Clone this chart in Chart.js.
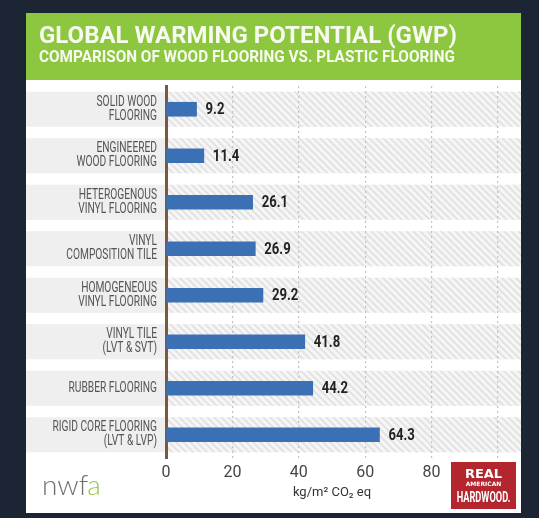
<!DOCTYPE html>
<html>
<head>
<meta charset="utf-8">
<title>Global Warming Potential (GWP)</title>
<script src="https://cdn.jsdelivr.net/npm/chart.js@4.4.0/dist/chart.umd.min.js"></script>
<style>
  html, body { margin: 0; padding: 0; background: #1b2533; }
  canvas { display: block; }
</style>
</head>
<body>
<canvas id="gwpChart" width="539" height="518"></canvas>
<script>
// chart data
const categories = [
  ["SOLID WOOD", "FLOORING"],
  ["ENGINEERED", "WOOD FLOORING"],
  ["HETEROGENOUS", "VINYL FLOORING"],
  ["VINYL", "COMPOSITION TILE"],
  ["HOMOGENEOUS", "VINYL FLOORING"],
  ["VINYL TILE", "(LVT & SVT)"],
  "RUBBER FLOORING",
  ["RIGID CORE FLOORING", "(LVT & LVP)"]
];
const gwpValues = [9.2, 11.4, 26.1, 26.9, 29.2, 41.8, 44.2, 64.3];
const xTickLabels = [0, 20, 40, 60, 80];

const titleText = "GLOBAL WARMING POTENTIAL (GWP)";
const subtitleText = "COMPARISON OF WOOD FLOORING VS. PLASTIC FLOORING";
const axisTitle = "kg/m² CO₂ eq";

const GREEN = "#8dc63f";
const BLUE = "#3b70b4";

// the white card + green header everything sits on
const card = { left: 26, right: 521, top: 13, bottom: 513, headerBottom: 80 };

// draws text squeezed horizontally, the original uses a condensed face
function condensedText(ctx, text, x, y, squeeze) {
  ctx.save();
  ctx.translate(x, y);
  ctx.scale(squeeze, 1);
  ctx.fillText(text, 0, 0);
  ctx.restore();
}

function makeHatch(ctx) {
  const size = 7;
  const c = document.createElement("canvas");
  c.width = size;
  c.height = size;
  const g = c.getContext("2d");
  g.fillStyle = "#f6f6f6";
  g.fillRect(0, 0, size, size);
  g.strokeStyle = "#e3e3e3";
  g.lineWidth = 2.2;
  g.beginPath();
  for (let k = -1; k <= 1; k++) {
    g.moveTo(k * size - 1, -1);
    g.lineTo(k * size + size + 1, size + 1);
  }
  g.stroke();
  return ctx.createPattern(c, "repeat");
}

const backgroundPlugin = {
  id: "infographicBackground",
  beforeDraw(chart) {
    const { ctx, chartArea } = chart;
    const yScale = chart.scales.y;
    ctx.save();
    ctx.fillStyle = "#1b2533";
    ctx.fillRect(0, 0, chart.width, chart.height);

    ctx.fillStyle = "#ffffff";
    ctx.fillRect(card.left, card.top, card.right - card.left, card.bottom - card.top);
    ctx.fillStyle = GREEN;
    ctx.fillRect(card.left, card.top, card.right - card.left, card.headerBottom - card.top);

    // header text
    ctx.fillStyle = "#f7fbef";
    ctx.textBaseline = "alphabetic";
    ctx.textAlign = "left";
    ctx.font = "bold 24px Roboto";
    ctx.fillText(titleText, 39, 43, 430);
    ctx.font = "bold 16px Roboto";
    ctx.fillText(subtitleText, 39, 62, 416);

    // one grey band per row, hatched inside the plot
    const hatch = makeHatch(ctx);
    const rowH = (chartArea.bottom - chartArea.top) / categories.length;
    const bandH = rowH * 0.755;
    categories.forEach((c, i) => {
      const y = yScale.getPixelForValue(i);
      ctx.fillStyle = "#efefef";
      ctx.fillRect(card.left, y - bandH / 2, chartArea.left - card.left, bandH);
      ctx.fillStyle = hatch;
      ctx.fillRect(chartArea.left, y - bandH / 2, card.right - chartArea.left, bandH);
    });

    // row labels, right aligned against the axis
    ctx.fillStyle = "#555555";
    ctx.font = "14px Roboto";
    ctx.textAlign = "right";
    ctx.textBaseline = "middle";
    const labelRight = chartArea.left - 9;
    categories.forEach((label, i) => {
      const lines = Array.isArray(label) ? label : [label];
      const y0 = yScale.getPixelForValue(i) - (lines.length - 1) * 7;
      lines.forEach((line, j) => condensedText(ctx, line, labelRight, y0 + j * 14, 0.73));
    });
    ctx.restore();
  },
  afterDatasetsDraw(chart) {
    const { ctx } = chart;
    const meta = chart.getDatasetMeta(0);
    ctx.save();
    ctx.fillStyle = "#222222";
    ctx.font = "bold 16px Roboto";
    ctx.textBaseline = "middle";
    ctx.textAlign = "left";
    meta.data.forEach((bar, i) => {
      condensedText(ctx, gwpValues[i].toFixed(1), bar.x + 9, bar.y + 1, 0.82);
    });
    ctx.restore();
  },
  afterDraw(chart) {
    const { ctx } = chart;
    ctx.save();
    // nwfa logo
    ctx.textBaseline = "alphabetic";
    ctx.textAlign = "left";
    ctx.font = "300 28px Lato";
    ctx.fillStyle = "#707070";
    ctx.fillText("nwf", 42, 495);
    const w = ctx.measureText("nwf").width;
    ctx.fillStyle = "#9cc54a";
    ctx.fillText("a", 42 + w - 1, 495);

    // Real American Hardwood logo
    ctx.fillStyle = "#b3262e";
    ctx.fillRect(451, 462, 65, 47);
    ctx.fillStyle = "#ffffff";
    ctx.textAlign = "center";
    ctx.font = "900 13px 'DejaVu Sans'";
    ctx.fillText("REAL", 483.5, 478, 50);
    ctx.font = "bold 6px 'DejaVu Sans'";
    ctx.fillText("AMERICAN", 483.5, 486, 50);
    ctx.font = "bold 14px Roboto";
    condensedText(ctx, "HARDWOOD.", 483.5, 502, 0.66);
    ctx.restore();
  }
};

const ctx = document.getElementById("gwpChart").getContext("2d");
const chart = new Chart(ctx, {
  type: "bar",
  data: {
    labels: categories,
    datasets: [
      {
        label: "GWP",
        data: gwpValues,
        backgroundColor: BLUE,
        barThickness: 14,
        borderWidth: 0
      }
    ]
  },
  options: {
    indexAxis: "y",
    responsive: false,
    animation: false,
    layout: { padding: { left: 26, top: 86, right: 41, bottom: 0 } },
    plugins: {
      legend: { display: false },
      tooltip: { enabled: false }
    },
    scales: {
      x: {
        min: 0,
        max: 100,
        z: 1,
        ticks: {
          stepSize: 20,
          padding: 5,
          color: "#454545",
          font: { family: "Roboto", size: 16 },
          callback: (v) => (xTickLabels.includes(v) ? v : "")
        },
        grid: {
          drawTicks: false,
          color: (c) => (c.tick && c.tick.value === 0 ? "rgba(0,0,0,0)" : "#c2c2c2"),
          lineWidth: 1.2
        },
        border: { display: false, dash: [2, 3] },
        title: {
          display: true,
          text: axisTitle,
          color: "#333333",
          font: { family: "Roboto", size: 13 },
          padding: { top: 0, bottom: 17 }
        },
        afterFit: (s) => { s.height = 60; }
      },
      y: {
        z: 1,
        grid: { drawTicks: false, color: "rgba(0,0,0,0)" },
        border: { display: true, color: "#7a5a3c", width: 3 },
        ticks: { display: false },
        afterFit: (s) => { s.width = 140; }
      }
    }
  },
  plugins: [backgroundPlugin]
});
</script>
</body>
</html>
